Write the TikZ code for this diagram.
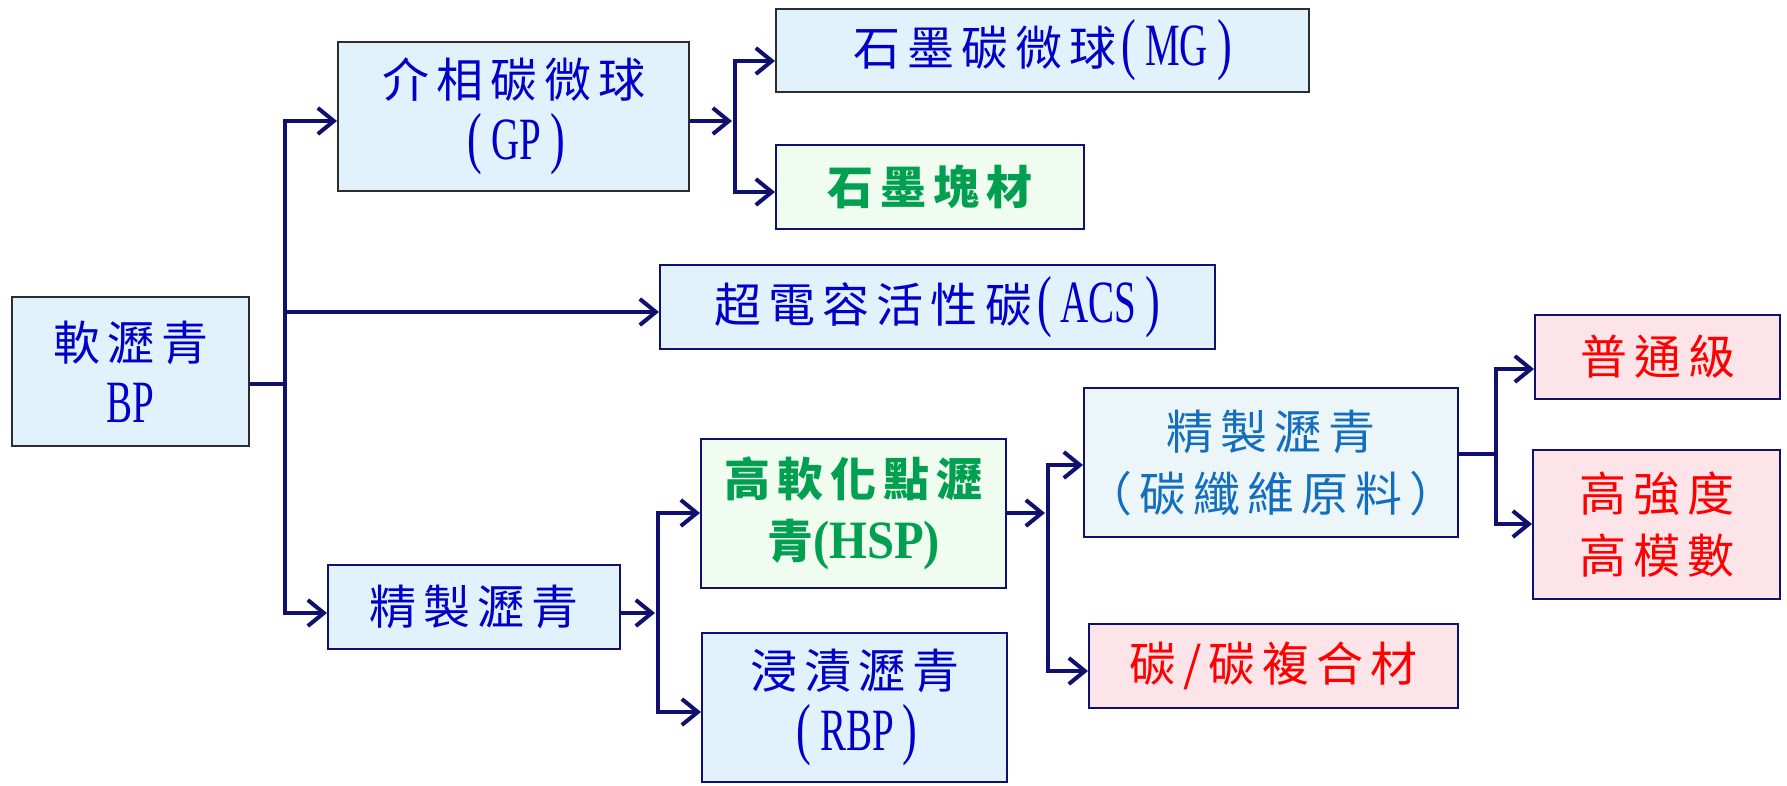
\documentclass[tikz,border=0pt]{standalone}
\usepackage{fontspec}
\usetikzlibrary{arrows.meta}
\setmainfont{Liberation Serif}
\newfontfamily\cjk[LetterSpace=15]{Noto Sans CJK TC}
\newfontfamily\latfont[FakeStretch=0.65]{Liberation Serif}
\newfontfamily\latbfont[FakeStretch=0.9]{Liberation Serif}
\newcommand\latn[1]{{\latfont\fontsize{60}{62}\selectfont #1}}
\newcommand\latb[1]{{\latbfont\bfseries\fontsize{54}{62}\selectfont #1}}
\newcommand\bigpar[1]{{\latfont\fontsize{68}{62}\selectfont\raisebox{-1pt}{#1}}}
\newcommand\pl[1]{\hspace{5pt}\bigpar{(}\hspace{9pt}\latn{#1}\hspace{9pt}\bigpar{)}}
\definecolor{navyln}{RGB}{16,16,112}
\definecolor{txtblue}{RGB}{0,0,200}
\definecolor{txtgreen}{RGB}{0,160,80}
\definecolor{txtred}{RGB}{255,0,0}
\definecolor{txtsteel}{RGB}{20,110,190}
\definecolor{fblue}{RGB}{225,242,253}
\definecolor{fgreen}{RGB}{240,252,240}
\definecolor{fpink}{RGB}{253,228,232}
\definecolor{fpale}{RGB}{236,245,248}
\definecolor{bgray}{RGB}{45,45,45}
\tikzset{
  box/.style={draw=navyln, line width=2.2pt, inner sep=0pt, anchor=north west,
    align=center, font=\cjk\fontsize{47}{62}\selectfont, text=txtblue, fill=fblue},
  grayb/.style={draw=bgray},
  greenbox/.style={fill=fgreen, text=txtgreen, font=\cjk\bfseries\fontsize{46}{62}\selectfont},
  redbox/.style={fill=fpink, text=txtred},
  palebox/.style={fill=fpale, text=txtsteel},
  ln/.style={draw=navyln, line width=4.5pt},
  arr/.style={ln, -{Straight Barb[length=16pt,width=26pt,line width=4pt]}},
}
\begin{document}
\begin{tikzpicture}[x=1pt,y=-1pt]
\useasboundingbox[fill=white] (0,0) rectangle (1787,786);
% boxes
\node[box, grayb, minimum width=237pt, minimum height=149pt] (bp) at (11,296) {軟瀝青\\\latn{BP}};
\node[box, grayb, minimum width=351pt, minimum height=149pt] (gp) at (337,41) {介相碳微球\\\pl{GP}};
\node[box, grayb, minimum width=533pt, minimum height=83pt] (mg) at (775,8) {石墨碳微球\pl{MG}};
\node[box, greenbox, minimum width=308pt, minimum height=84pt] (gk) at (775,144) {石墨塊材};
\node[box, minimum width=555pt, minimum height=84pt] (acs) at (659,264) {超電容活性碳\pl{ACS}};
\node[box, minimum width=292pt, minimum height=84pt] (jz) at (327,564) {精製瀝青};
\node[box, greenbox, minimum width=305pt, minimum height=149pt] (hsp) at (700,438) {高軟化點瀝\\青\latb{(HSP)}};
\node[box, minimum width=305pt, minimum height=149pt] (rbp) at (701,632) {浸漬瀝青\\\pl{RBP}};
\node[box, palebox, minimum width=374pt, minimum height=149pt] (cf) at (1083,387) {精製瀝青\\（碳纖維原料）};
\node[box, redbox, minimum width=369pt, minimum height=84pt] (cc) at (1088,623) {碳/碳複合材};
\node[box, redbox, minimum width=245pt, minimum height=84pt] (pt) at (1534,314) {普通級};
\node[box, redbox, minimum width=247pt, minimum height=149pt] (hs) at (1532,449) {高強度\\高模數};
% trunk coordinates
\coordinate (t1) at (285,384);
\coordinate (t2) at (735,121);
\coordinate (t3) at (658,613);
\coordinate (t4) at (1048,513);
\coordinate (t5) at (1496,454);
% connectors
\draw[ln] (bp.east |- t1) -- (t1);
\draw[arr] (t1) |- (gp.west |- 0,121);
\draw[arr] (t1) |- (jz.west |- 0,613);
\draw[arr] (t1 |- 0,312) -- (acs.west |- 0,312);
\draw[arr, shorten >=3pt] (gp.east |- t2) -- (t2);
\draw[arr] (t2) |- (mg.west |- 0,61);
\draw[arr] (t2) |- (gk.west |- 0,192);
\draw[arr, shorten >=3pt] (jz.east |- t3) -- (t3);
\draw[arr] (t3) |- (hsp.west |- 0,513);
\draw[arr] (t3) |- (rbp.west |- 0,712);
\draw[arr, shorten >=3pt] (hsp.east |- t4) -- (t4);
\draw[arr] (t4) |- (cf.west |- 0,465);
\draw[arr] (t4) |- (cc.west |- 0,671);
\draw[ln] (cf.east |- t5) -- (t5);
\draw[arr] (t5) |- (pt.west |- 0,369);
\draw[arr] (t5) |- (hs.west |- 0,524);
\end{tikzpicture}
\end{document}
